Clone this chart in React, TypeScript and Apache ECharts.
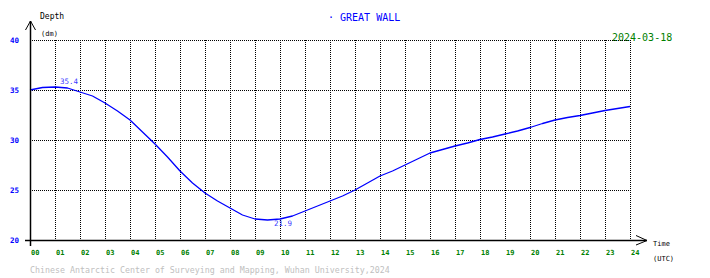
import React, { useEffect, useRef } from "react";
import * as echarts from "echarts";

const hours = [
  0, 0.5, 1, 1.5, 2, 2.5, 3, 3.5, 4, 4.5, 5, 5.5, 6, 6.5, 7, 7.5, 8, 8.5, 9, 9.5,
  10, 10.5, 11, 11.5, 12, 12.5, 13, 13.5, 14, 14.5, 15, 15.5, 16, 16.5, 17, 17.5,
  18, 18.5, 19, 19.5, 20, 20.5, 21, 21.5, 22, 22.5, 23, 23.5, 24,
];
const depth = [
  35.0, 35.25, 35.3, 35.2, 34.8, 34.4, 33.7, 32.9, 32.0, 30.8, 29.6, 28.3, 26.9,
  25.7, 24.7, 23.9, 23.2, 22.5, 22.1, 22.0, 22.1, 22.4, 22.9, 23.4, 23.9, 24.4,
  25.0, 25.7, 26.4, 26.9, 27.5, 28.1, 28.7, 29.05, 29.4, 29.7, 30.05, 30.3, 30.6,
  30.9, 31.25, 31.65, 32.0, 32.25, 32.45, 32.7, 32.95, 33.15, 33.35,
];
const extremeHours = [1.2, 9.76];
const extremeValues = [35.4, 21.9];
const hourLabels = [
  "00", "01", "02", "03", "04", "05", "06", "07", "08", "09", "10", "11", "12",
  "13", "14", "15", "16", "17", "18", "19", "20", "21", "22", "23", "24",
];
const titleText = "· GREAT WALL";
const dateText = "2024-03-18";
const footerText =
  "Chinese Antarctic Center of Surveying and Mapping, Wuhan University,2024";

const MONO = "DejaVu Sans Mono";

export default function App() {
  const ref = useRef<HTMLDivElement>(null);
  useEffect(() => {
    if (!ref.current) return;
    const chart = echarts.init(ref.current, null, { renderer: "svg" });
    const lineData = hours.map((h, i) => [h, depth[i]]);
    const extremeData = extremeHours.map((h, i) => [h, extremeValues[i]]);
    chart.setOption({
      animation: false,
      backgroundColor: "#fff",
      grid: { left: 30, right: 80, top: 40, bottom: 38, containLabel: false },
      xAxis: {
        type: "value",
        min: 0,
        max: 24,
        interval: 1,
        axisLine: { show: false },
        axisTick: { show: false },
        axisLabel: {
          color: "#008000",
          fontFamily: MONO,
          fontSize: 7,
          fontWeight: "bold",
          align: "left",
          margin: 9,
          padding: [0, 0, 0, 1],
          formatter: (v: number) => hourLabels[v] ?? "",
        },
        splitLine: {
          show: true,
          lineStyle: { color: "#000", width: 1, type: [1, 1] },
        },
      },
      yAxis: {
        type: "value",
        min: 20,
        max: 40,
        interval: 5,
        axisLine: { show: false },
        axisTick: { show: false },
        axisLabel: {
          color: "#0000ff",
          fontFamily: MONO,
          fontSize: 7.5,
          fontWeight: "bold",
          margin: 11,
          padding: [0, 0, 4, 0],
        },
        splitLine: {
          show: true,
          lineStyle: { color: "#000", width: 1, type: [1, 1] },
        },
      },
      series: [
        {
          type: "line",
          data: lineData,
          symbol: "none",
          lineStyle: { color: "#0000ff", width: 1.3 },
          z: 3,
        },
        {
          type: "scatter",
          data: extremeData,
          symbolSize: 0,
          label: {
            show: true,
            position: "right",
            distance: 0,
            color: "#0000ff",
            fontFamily: MONO,
            fontSize: 7.5,
            formatter: (p: any) => p.value[1].toFixed(1),
          },
          labelLayout: (p: any) =>
            p.dataIndex === 0 ? { dy: -4.5 } : { dy: 2 },
          z: 4,
        },
      ],
      graphic: [
        // y axis with open arrow
        { type: "line", shape: { x1: 30.5, y1: 246, x2: 30.5, y2: 21 }, style: { stroke: "#000", lineWidth: 1.5 }, z: 10 },
        { type: "polyline", shape: { points: [[25.5, 30], [30.5, 21], [35.5, 30]] }, style: { stroke: "#000", lineWidth: 1, fill: null }, z: 10 },
        // x axis with open arrow
        { type: "line", shape: { x1: 25, y1: 240.5, x2: 647, y2: 240.5 }, style: { stroke: "#000", lineWidth: 1.5 }, z: 10 },
        { type: "polyline", shape: { points: [[636, 235.5], [647, 240.5], [636, 245]] }, style: { stroke: "#000", lineWidth: 1, fill: null }, z: 10 },
        { type: "text", x: 40, y: 16.5, style: { text: "Depth", fill: "#000", font: `8px ${MONO}`, textVerticalAlign: "middle" } },
        { type: "text", x: 41, y: 34, style: { text: "(dm)", fill: "#000", font: `7px ${MONO}`, textVerticalAlign: "middle" } },
        { type: "text", x: 653, y: 243.5, style: { text: "Time", fill: "#000", font: `7px ${MONO}`, textVerticalAlign: "middle" } },
        { type: "text", x: 653, y: 259, style: { text: "(UTC)", fill: "#000", font: `7px ${MONO}`, textVerticalAlign: "middle" } },
        { type: "text", x: 328, y: 17, style: { text: titleText, fill: "#0000ff", font: `10px ${MONO}`, textVerticalAlign: "middle" } },
        { type: "text", x: 612, y: 37.5, style: { text: dateText, fill: "#008000", font: `10px ${MONO}`, textVerticalAlign: "middle" } },
        { type: "text", x: 30, y: 270, style: { text: footerText, fill: "#c0c0c0", font: `8.3px ${MONO}`, textVerticalAlign: "middle" } },
      ],
    });
    return () => chart.dispose();
  }, []);
  return (
    <div
      ref={ref}
      style={{ position: "fixed", left: 0, top: 0, width: 710, height: 278, background: "#fff" }}
    />
  );
}
